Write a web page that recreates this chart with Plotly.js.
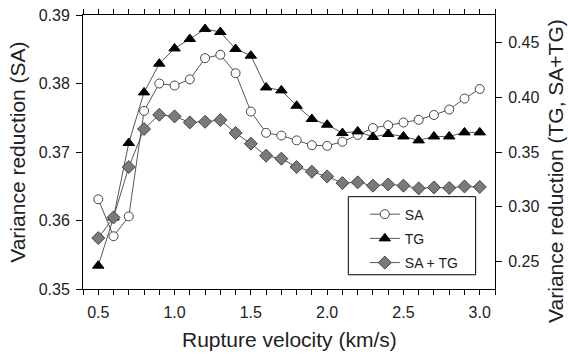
<!DOCTYPE html>
<html>
<head>
<meta charset="utf-8">
<script src="https://cdn.plot.ly/plotly-3.0.1.min.js"></script>
<style>html,body{margin:0;padding:0;background:#fff;}#chart{width:568px;height:355px;}</style>
</head>
<body>
<div id="chart"></div>
<script>
var velocity = [0.5,0.6,0.7,0.8,0.9,1.0,1.1,1.2,1.3,1.4,1.5,1.6,1.7,1.8,1.9,2.0,2.1,2.2,2.3,2.4,2.5,2.6,2.7,2.8,2.9,3.0];
var saValues = [0.3631,0.3577,0.3606,0.3760,0.3800,0.3797,0.3806,0.3837,0.3842,0.3815,0.3759,0.3728,0.3724,0.3717,0.3710,0.3709,0.3715,0.3725,0.3735,0.3739,0.3743,0.3747,0.3754,0.3762,0.3778,0.3792];
var tgValues = [0.2463,0.2903,0.3582,0.4044,0.4306,0.4445,0.4531,0.4622,0.4595,0.4440,0.4379,0.4089,0.4062,0.3922,0.3801,0.3749,0.3673,0.3688,0.3637,0.3664,0.3642,0.3606,0.3642,0.3642,0.3679,0.3679];
var satgValues = [0.2715,0.2903,0.3363,0.3710,0.3840,0.3825,0.3770,0.3776,0.3792,0.3673,0.3576,0.3466,0.3439,0.3363,0.3320,0.3277,0.3217,0.3223,0.3193,0.3204,0.3193,0.3168,0.3177,0.3172,0.3186,0.3181];
var seriesNames = ["SA", "TG", "SA + TG"];
var xTitle = "Rupture velocity (km/s)";
var yLeftTitle = "Variance reduction (SA)";
var yRightTitle = "Variance reduction (TG, SA+TG)";

var lineCol = "#555555";
var traces = [
  {x: velocity, y: saValues, name: seriesNames[0], type: "scatter", mode: "lines+markers", yaxis: "y", legendgroup: "a",
   line: {color: lineCol, width: 1},
   marker: {symbol: "circle", size: 9, color: "#ffffff", line: {color: "#444444", width: 1}}},
  {x: velocity, y: tgValues, name: seriesNames[1], type: "scatter", mode: "lines+markers", yaxis: "y2", legendgroup: "b",
   line: {color: lineCol, width: 1},
   marker: {symbol: "triangle-up", size: 10, color: "#000000", line: {color: "#000000", width: 1}}},
  {x: velocity, y: satgValues, name: seriesNames[2], type: "scatter", mode: "lines+markers", yaxis: "y2", legendgroup: "c",
   line: {color: lineCol, width: 1},
   marker: {symbol: "diamond", size: 10, color: "#7a7a7a", line: {color: "#444444", width: 1}}}
];

var tickFont = {family: "Liberation Sans, Arial, sans-serif", size: 16, color: "#222"};
var titleFont = {family: "Liberation Sans, Arial, sans-serif", size: 21, color: "#222"};

var layout = {
  width: 568, height: 355,
  margin: {l: 83, r: 73, t: 15, b: 66, pad: 0},
  paper_bgcolor: "#ffffff", plot_bgcolor: "#ffffff",
  showlegend: true,
  legend: {x: 0.684, y: 0.33, xanchor: "left", yanchor: "top", bgcolor: "rgba(0,0,0,0)", borderwidth: 0,
           tracegroupgap: 3, font: {family: "Liberation Sans, Arial, sans-serif", size: 14, color: "#222"}},
  xaxis: {range: [0.4, 3.1], tick0: 0, dtick: 0.5, tickformat: ".1f", ticks: "outside", ticklen: 5,
          tickcolor: "#000", showline: true, linecolor: "#000", linewidth: 1, mirror: "ticks",
          showgrid: false, zeroline: false, tickfont: tickFont, ticklabelstandoff: 4,
          minor: {dtick: 0.1, ticks: "outside", ticklen: 5, tickcolor: "#000", showgrid: false}},
  yaxis: {range: [0.35, 0.39], dtick: 0.01, tickformat: ".2f", ticks: "outside", ticklen: 6, tickcolor: "#000",
          showline: true, linecolor: "#000", linewidth: 1, showgrid: false, zeroline: false, tickfont: tickFont, ticklabelstandoff: 3},
  yaxis2: {overlaying: "y", side: "right", range: [0.225, 0.475], tick0: 0.25, dtick: 0.05, tickformat: ".2f",
           ticks: "outside", ticklen: 6, tickcolor: "#000", showline: true, linecolor: "#000", linewidth: 1,
           showgrid: false, zeroline: false, tickfont: tickFont, ticklabelstandoff: 3},
  shapes: [
    {type: "rect", xref: "paper", yref: "paper", x0: 0.644, x1: 0.953, y0: 0.052, y1: 0.337,
     line: {color: "#000", width: 1}, fillcolor: "rgba(0,0,0,0)"}
  ],
  annotations: [
    {text: xTitle, xref: "paper", yref: "paper", x: 0.5, y: -0.185, xanchor: "center", yanchor: "middle",
     showarrow: false, font: titleFont},
    {text: yLeftTitle, xref: "paper", yref: "paper", x: -0.159, y: 0.499, xanchor: "center", yanchor: "middle",
     textangle: -90, showarrow: false, font: titleFont},
    {text: yRightTitle, xref: "paper", yref: "paper", x: 1.148, y: 0.431, xanchor: "center", yanchor: "middle",
     textangle: -90, showarrow: false, font: titleFont}
  ]
};

Plotly.newPlot("chart", traces, layout, {displayModeBar: false, staticPlot: true});
</script>
</body>
</html>
